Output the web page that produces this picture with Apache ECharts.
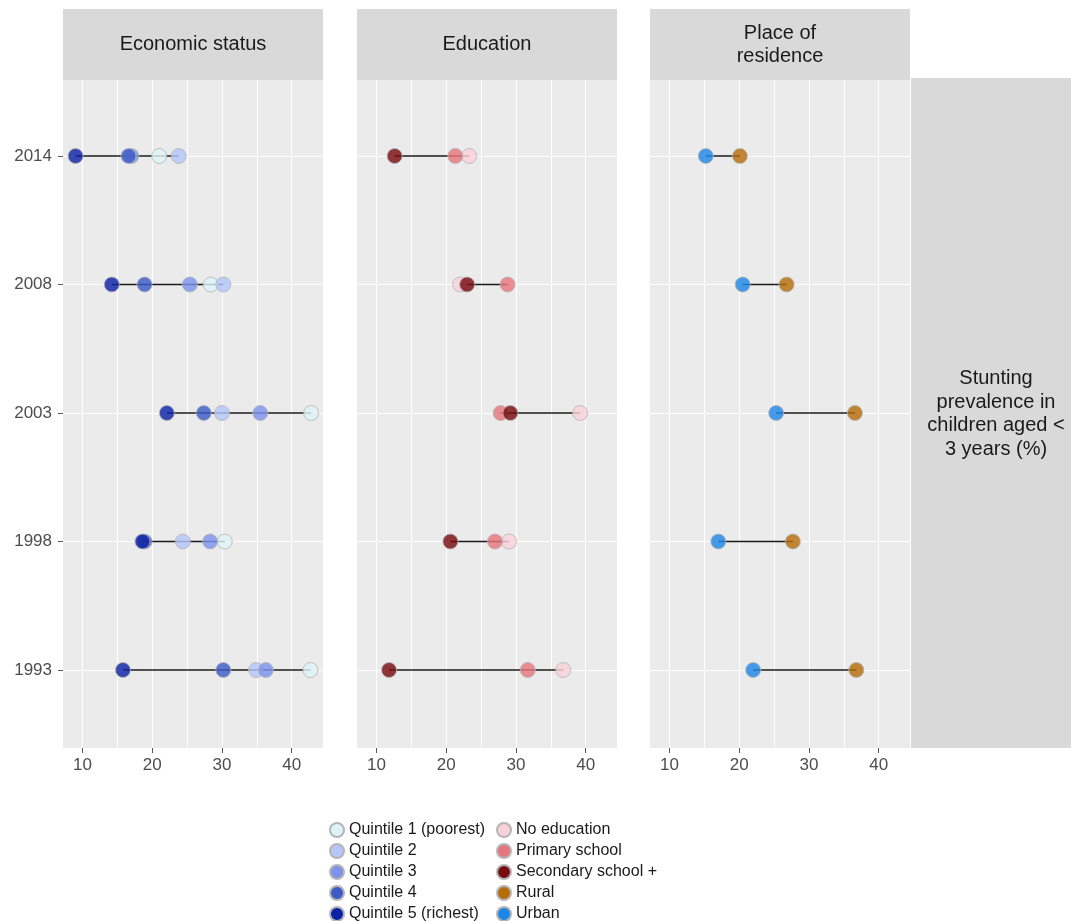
<!DOCTYPE html>
<html><head><meta charset="utf-8">
<script src="https://cdn.jsdelivr.net/npm/echarts@6/dist/echarts.min.js"></script>
<style>html,body{margin:0;padding:0;background:#fff}#c{width:1071px;height:921px}</style>
</head><body><div id="c"></div>
<script>
// ---- data (values ordered as years) ----
const years = ['1993', '1998', '2003', '2008', '2014'];
const xTicks = [10, 20, 30, 40];
const xGridLines = [10, 15, 20, 25, 30, 35, 40];
const panelTitles = ['Economic status', 'Education', 'Place of\nresidence'];
const rowTitle = 'Stunting\nprevalence in\nchildren aged <\n3 years (%)';

const quintile1 = [42.7, 30.4, 42.8, 28.4, 21.0];
const quintile2 = [34.9, 24.4, 30.0, 30.2, 23.8];
const quintile3 = [36.3, 28.3, 35.5, 25.4, 17.0];
const quintile4 = [30.2, 18.9, 27.4, 18.9, 16.6];
const quintile5 = [15.8, 18.6, 22.1, 14.2, 9.0];
const noEducation = [36.8, 29.0, 39.2, 22.0, 23.3];
const primarySchool = [31.7, 27.0, 27.8, 28.8, 21.3];
const secondarySchool = [11.8, 20.6, 29.2, 23.0, 12.6];
const rural = [36.8, 27.7, 36.6, 26.8, 20.1];
const urban = [22.0, 17.0, 25.3, 20.5, 15.2];

const panelGroups = [
  [['Quintile 1 (poorest)', quintile1], ['Quintile 2', quintile2], ['Quintile 3', quintile3], ['Quintile 4', quintile4], ['Quintile 5 (richest)', quintile5]],
  [['No education', noEducation], ['Primary school', primarySchool], ['Secondary school +', secondarySchool]],
  [['Rural', rural], ['Urban', urban]]
];

// ---- styles ----
const colors = {
  'Quintile 1 (poorest)': '#DDF3F8',
  'Quintile 2': '#B3C6F7',
  'Quintile 3': '#7C93EC',
  'Quintile 4': '#3D5BC6',
  'Quintile 5 (richest)': '#0C22A5',
  'No education': '#F9D2D9',
  'Primary school': '#E6767E',
  'Secondary school +': '#780C10',
  'Rural': '#B56D0B',
  'Urban': '#1E86E6'
};
const FONT = '"Liberation Sans", Arial, sans-serif';
const panelLeft = [63, 357, 650];
const panelWidth = 260;
const xMin = 7.2, xMax = 44.5;

const grids = [], xAxes = [], yAxes = [], series = [], graphics = [];

panelGroups.forEach((groups, p) => {
  const bg = 2 * p, dg = 2 * p + 1;
  grids.push({left: panelLeft[p], width: panelWidth, top: 80, height: 668, show: true, backgroundColor: '#EBEBEB', borderWidth: 0});
  grids.push({left: panelLeft[p], width: panelWidth, top: 156, height: 514});
  xAxes.push({
    type: 'value', gridIndex: bg, min: xMin, max: xMax,
    axisLine: {show: false},
    axisTick: {show: true, length: 5, lineStyle: {color: '#555', width: 1}, customValues: xTicks},
    axisLabel: {color: '#4D4D4D', fontSize: 17, margin: 9, fontFamily: FONT, customValues: xTicks},
    splitLine: {show: false}
  });
  xAxes.push({type: 'value', gridIndex: dg, min: xMin, max: xMax, show: false, splitLine: {show: false}});
  yAxes.push({type: 'value', gridIndex: bg, min: 0, max: 1, show: false, splitLine: {show: false}});
  yAxes.push({
    type: 'category', gridIndex: dg, data: years, boundaryGap: false,
    axisLine: {show: false},
    axisTick: {show: p === 0, length: 5, lineStyle: {color: '#555', width: 1}},
    axisLabel: {show: p === 0, color: '#4D4D4D', fontSize: 17, margin: 11, fontFamily: FONT},
    splitLine: {show: true, lineStyle: {color: '#FFFFFF', width: 1.2}}
  });
  // vertical grid lines through the library's x scale
  series.push({
    type: 'line', xAxisIndex: bg, yAxisIndex: bg, data: [], silent: true, z: 0,
    markLine: {
      silent: true, symbol: 'none', animation: false, z: 0,
      label: {show: false},
      lineStyle: {color: '#FFFFFF', width: 1.1, type: 'solid'},
      emphasis: {disabled: true},
      data: xGridLines.map(v => ({xAxis: v}))
    }
  });
  // range segments per year
  const segData = years.map((y, i) => {
    const vals = groups.map(g => g[1][i]);
    return [Math.min(...vals), Math.max(...vals), i];
  });
  series.push({
    type: 'custom', xAxisIndex: dg, yAxisIndex: dg, silent: true, z: 3,
    encode: {x: [0, 1], y: 2},
    data: segData,
    renderItem: (params, api) => {
      const s = api.coord([api.value(0), api.value(2)]);
      const e = api.coord([api.value(1), api.value(2)]);
      return {type: 'line', shape: {x1: s[0], y1: s[1], x2: e[0], y2: e[1]}, style: {stroke: '#1A1A1A', lineWidth: 1.6}};
    }
  });
  groups.forEach(([name, vals]) => {
    series.push({
      type: 'scatter', name, xAxisIndex: dg, yAxisIndex: dg, z: 4,
      symbol: 'circle', symbolSize: 15,
      itemStyle: {color: colors[name], opacity: 0.82, borderColor: '#B5B5B5', borderWidth: 1},
      emphasis: {disabled: true},
      data: years.map((y, i) => [vals[i], y])
    });
  });
  graphics.push({type: 'rect', left: panelLeft[p], top: 9, shape: {width: panelWidth, height: 71}, style: {fill: '#D9D9D9'}, z: 0});
  graphics.push({
    type: 'text', x: panelLeft[p] + panelWidth / 2, y: 44.5, z: 1,
    style: {text: panelTitles[p], fontSize: 20, fontFamily: FONT, fill: '#1A1A1A', align: 'center', verticalAlign: 'middle', lineHeight: 23}
  });
});

graphics.push({type: 'rect', left: 911, top: 78, shape: {width: 160, height: 670}, style: {fill: '#D9D9D9'}, z: 0});
graphics.push({
  type: 'text', x: 996, y: 414, z: 1,
  style: {text: rowTitle, fontSize: 20, fontFamily: FONT, fill: '#1A1A1A', align: 'center', verticalAlign: 'middle', lineHeight: 23.5}
});

const legendBase = {
  orient: 'vertical', top: 822, height: 120, itemWidth: 14, itemHeight: 14, itemGap: 5, padding: 0,
  icon: 'circle', selectedMode: false,
  itemStyle: {opacity: 1},
  textStyle: {fontSize: 16, lineHeight: 16, color: '#1A1A1A', fontFamily: FONT}
};

const chart = echarts.init(document.getElementById('c'), null, {renderer: 'canvas'});
chart.setOption({
  animation: false,
  backgroundColor: '#FFFFFF',
  textStyle: {fontFamily: FONT},
  grid: grids, xAxis: xAxes, yAxis: yAxes, series,
  legend: [
    Object.assign({}, legendBase, {left: 329, data: panelGroups[0].map(g => g[0])}),
    Object.assign({}, legendBase, {left: 496, data: panelGroups[1].map(g => g[0]).concat(panelGroups[2].map(g => g[0]))})
  ],
  graphic: graphics
});
</script>
</body></html>
